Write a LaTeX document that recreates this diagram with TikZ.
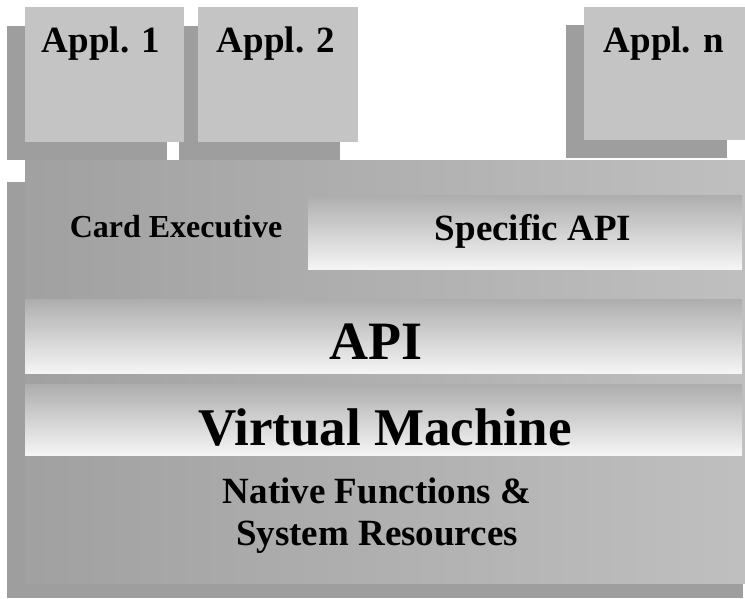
\documentclass[tikz,border=0pt]{standalone}
\usepackage{fontspec}
\setmainfont{Liberation Serif}
\definecolor{ombra}{gray}{0.62}
\definecolor{appl}{gray}{0.77}
\definecolor{scuro}{gray}{0.63}
\definecolor{chiaro}{gray}{0.75}
\definecolor{fasciasu}{gray}{0.68}
\definecolor{fasciagiu}{gray}{0.96}
\begin{document}
\begin{tikzpicture}[x=1pt,y=-1pt,
  fascia/.style={top color=fasciasu,bottom color=fasciagiu},
  txt/.style={anchor=base,inner sep=0pt,font=\fontsize{#1}{#1}\selectfont\bfseries}]
  \useasboundingbox (0,0) rectangle (745,598);

  % Ombre
  \fill[ombra] (7,26) rectangle (167,160);
  \fill[ombra] (179,26) rectangle (340,160);
  \fill[ombra] (566,25) rectangle (727,158);
  \fill[ombra] (7,182) rectangle (743,598);

  % Blocchi
  \fill[appl] (25,7) rectangle (184,142);
  \fill[appl] (198,7) rectangle (358,142);
  \fill[appl] (584,7) rectangle (745,140);
  \shade[left color=scuro,right color=chiaro] (25,160) rectangle (745,583);
  \shade[fascia] (308,195) rectangle (742,269);
  \shade[fascia] (25,299) rectangle (742,373);
  \shade[fascia] (25,384) rectangle (742,455);

  % Testi
  \node[txt=37] (appl1) at (101,52) {Appl. 1};
  \node[txt=37] (appl2) at (276,52) {Appl. 2};
  \node[txt=37] (appln) at (664,52) {Appl. n};
  \node[txt=32] (card) at (176,237) {Card Executive};
  \node[txt=37] (spec) at (533,240) {Specific API};
  \node[txt=54] (api) at (376,359) {API};
  \node[txt=53] (vm) at (385,445) {Virtual Machine};
  \node[txt=37] (natfun) at (377,503) {Native Functions \&};
  \node[txt=37] (sysres) at (377,545) {System Resources};
\end{tikzpicture}
\end{document}
